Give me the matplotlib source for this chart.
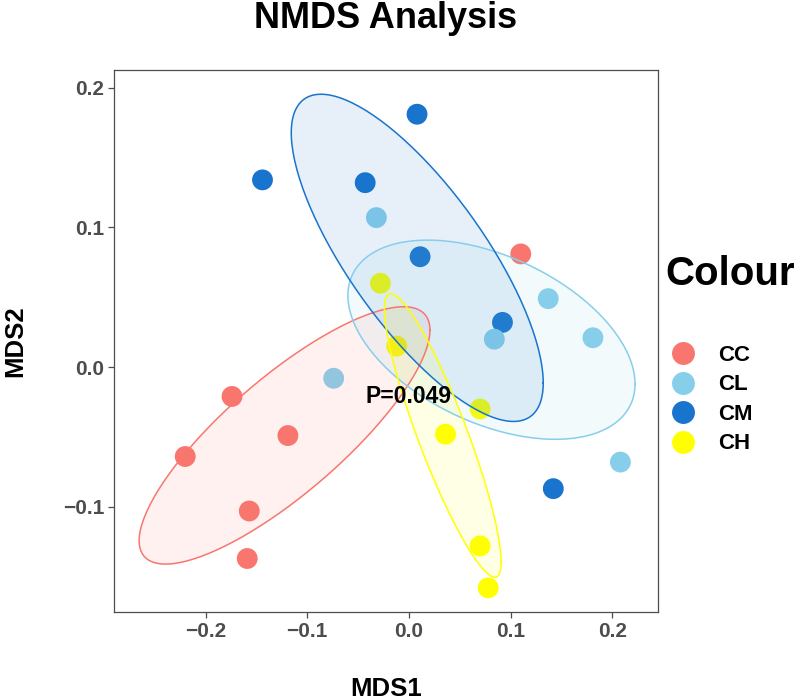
import numpy as np
import matplotlib
matplotlib.use("Agg")
import matplotlib.pyplot as plt
from matplotlib.lines import Line2D

plt.rcParams['font.family'] = ['Liberation Sans', 'DejaVu Sans']

# NMDS scores
groups = ['CC', 'CL', 'CM', 'CH']
colours = ['#F8766D', '#87CEEB', '#1874CD', '#FFFF00']

cc_x = [0.110, -0.174, -0.119, -0.220, -0.157, -0.159]
cc_y = [0.081, -0.021, -0.049, -0.064, -0.103, -0.137]
cl_x = [-0.032, 0.137, 0.181, 0.084, -0.074, 0.208]
cl_y = [0.107, 0.049, 0.021, 0.020, -0.008, -0.068]
cm_x = [0.008, -0.144, -0.043, 0.011, 0.092, 0.142]
cm_y = [0.181, 0.134, 0.132, 0.079, 0.032, -0.087]
ch_x = [-0.028, -0.012, 0.070, 0.036, 0.070, 0.078]
ch_y = [0.060, 0.015, -0.030, -0.048, -0.128, -0.158]

xs = {'CC': cc_x, 'CL': cl_x, 'CM': cm_x, 'CH': ch_x}
ys = {'CC': cc_y, 'CL': cl_y, 'CM': cm_y, 'CH': ch_y}

# confidence ellipses (CC, CL, CM, CH):
# centre, half extent along x / y, and the x-y correlation of the shape
ell_cx = [-0.1223, 0.0812, 0.0082, 0.0333]
ell_cy = [-0.0489, 0.0196, 0.0782, -0.0489]
ell_ax = [0.1430, 0.1412, 0.1239, 0.0574]
ell_ay = [0.0921, 0.0713, 0.1171, 0.1015]
ell_r = [0.818, -0.444, -0.764, -0.892]

p_label = 'P=0.049'

fig = plt.figure(figsize=(7.98, 7.0), dpi=100)
ax = fig.add_axes([0.1429, 0.1257, 0.6817, 0.775])

# points first, the ellipse fills sit on top of them
for g in ['CC', 'CM', 'CL', 'CH']:
    c = colours[groups.index(g)]
    ax.scatter(xs[g], ys[g], s=225, color=c, edgecolors='none', zorder=2)

t = np.linspace(0, 2 * np.pi, 200)
for i, c in enumerate(colours):
    r = ell_r[i]
    ex = ell_cx[i] + ell_ax[i] * np.cos(t)
    ey = ell_cy[i] + ell_ay[i] * (r * np.cos(t) + np.sqrt(1 - r ** 2) * np.sin(t))
    ax.fill(ex, ey, color=c, alpha=0.1, lw=0, zorder=3)
    ax.plot(ex, ey, color=c, lw=1.1, zorder=4)

ax.text(0.0, -0.021, p_label, ha='center', va='center', fontsize=16.5,
        fontweight='bold', zorder=5)

ax.set_xlim(-0.290, 0.245)
ax.set_ylim(-0.1753, 0.2130)
ax.set_xticks([-0.2, -0.1, 0.0, 0.1, 0.2])
ax.set_yticks([-0.1, 0.0, 0.1, 0.2])
ax.set_xticklabels(['\u22120.2', '\u22120.1', '0.0', '0.1', '0.2'])
ax.set_yticklabels(['\u22120.1', '0.0', '0.1', '0.2'])
ax.tick_params(colors='#4D4D4D', length=4, width=0.9, pad=3, labelsize=15)
for lab in ax.get_xticklabels() + ax.get_yticklabels():
    lab.set_fontweight('bold')
for sp in ax.spines.values():
    sp.set_color('#4D4D4D')
    sp.set_linewidth(0.9)

fig.text(386 / 798, 1 - 28 / 700, 'NMDS Analysis', ha='center', va='baseline',
         fontsize=26, fontweight='bold')
fig.text(386 / 798, 1 - 696.5 / 700, 'MDS1', ha='center', va='baseline',
         fontsize=18.5, fontweight='bold')
fig.text(22 / 798, 1 - 340.7 / 700, 'MDS2', ha='center', va='baseline', rotation=90,
         fontsize=18.5, fontweight='bold', rotation_mode='anchor')

# legend
fig.text(665 / 798, 1 - 285 / 700, 'Colour', ha='left', va='baseline',
         fontsize=29, fontweight='bold')
handles = [Line2D([], [], ls='none', marker='o', markersize=16.5, color=c,
                  markeredgewidth=0) for c in colours]
fig.legend(handles, groups, loc='upper left', bbox_to_anchor=(668 / 798, 1 - 345 / 700),
           frameon=False, borderpad=0, borderaxespad=0,
           handlelength=1.35, handletextpad=0.9, labelspacing=0.38,
           prop={'weight': 'bold', 'size': 16})

fig.savefig('out.png', dpi=100)
